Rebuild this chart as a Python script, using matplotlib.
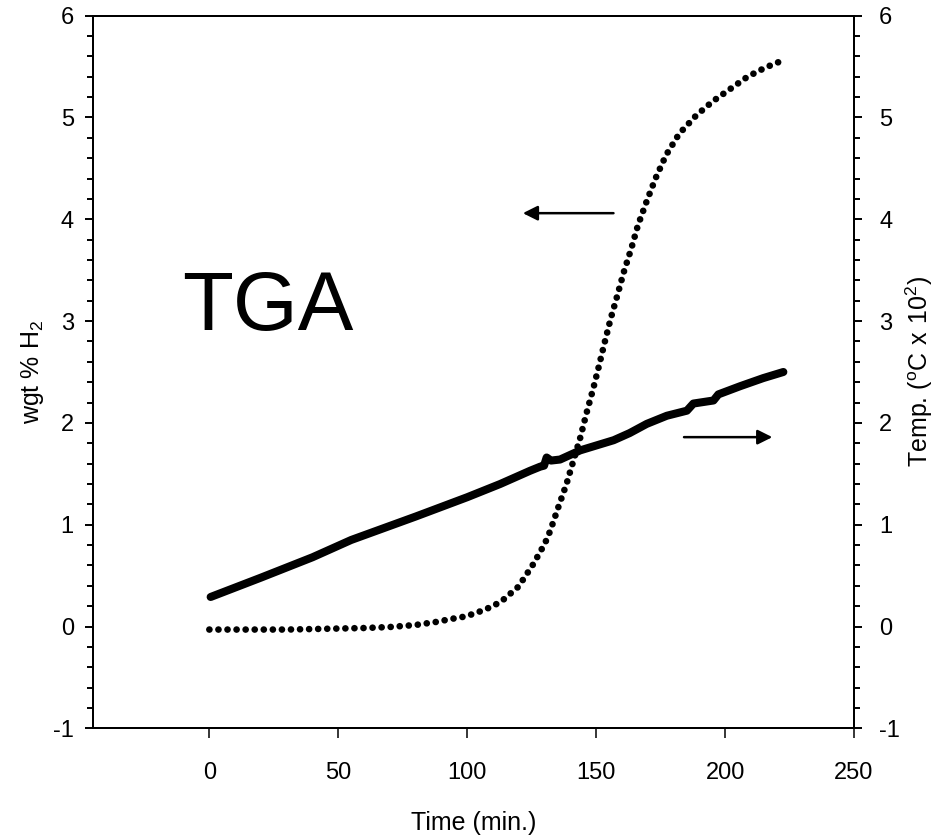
import matplotlib.pyplot as plt
from matplotlib.ticker import MultipleLocator

plt.rcParams['font.family'] = ['Liberation Sans', 'DejaVu Sans']
plt.rcParams['mathtext.fontset'] = 'custom'
plt.rcParams['mathtext.rm'] = 'Liberation Sans'
plt.rcParams['axes.unicode_minus'] = False

# weight % H2 (dotted curve, left axis)
t_wgt = [0, 10, 20, 30, 40, 50, 60, 70, 80, 88, 94, 99.6, 106.3, 109.9, 113.4,
         116.6, 119.8, 122.7, 125.3, 127.8, 130.2, 132.2, 135.3, 138.5, 141.2,
         143.9, 146.2, 148.8, 151, 153.3, 155.6, 158.2, 160.7, 163.6, 166.2,
         169.5, 173, 177.1, 182.2, 188.8, 195.3, 202, 208.7, 215.6, 222.3]
wgt = [-0.03, -0.03, -0.03, -0.03, -0.025, -0.02, -0.015, -0.005, 0.015, 0.045,
       0.075, 0.10, 0.16, 0.20, 0.25, 0.32, 0.39, 0.50, 0.60, 0.71, 0.82, 0.94,
       1.17, 1.40, 1.63, 1.86, 2.09, 2.33, 2.55, 2.79, 3.02, 3.25, 3.48, 3.71,
       3.94, 4.17, 4.40, 4.63, 4.84, 5.02, 5.16, 5.28, 5.40, 5.49, 5.56]

# temperature in degC x 100 (solid line, right axis)
t_temp = [0.5, 20, 40, 55, 80, 100, 112.8, 124.4, 128.3, 129.8, 130.8, 132.5,
          136, 143.8, 156.8, 163, 169.6, 177.4, 185.2, 187.7, 195.5, 197.4,
          205.8, 214.8, 222.6]
temp = [0.29, 0.48, 0.68, 0.85, 1.08, 1.27, 1.40, 1.53, 1.57, 1.58, 1.66, 1.63,
        1.64, 1.73, 1.83, 1.90, 1.99, 2.07, 2.12, 2.19, 2.22, 2.28, 2.36, 2.44,
        2.50]

fig = plt.figure(figsize=(9.36, 8.38), dpi=100)
ax = fig.add_axes([0.0997, 0.1309, 0.8127, 0.8504])
ax2 = ax.twinx()

ax.plot(t_wgt, wgt, color='black', lw=4.8, linestyle=(0, (0.01, 1.35)),
        dash_capstyle='round')
ax2.plot(t_temp, temp, color='black', lw=5.8, solid_capstyle='round',
         solid_joinstyle='round')

ax.set_xlim(-45, 250)
ax.set_ylim(-1, 6)
ax2.set_ylim(-1, 6)
ax.set_xticks([0, 50, 100, 150, 200, 250])

for a in (ax, ax2):
    a.yaxis.set_major_locator(MultipleLocator(1))
    a.yaxis.set_minor_locator(MultipleLocator(0.2))
    for s in a.spines.values():
        s.set_linewidth(1.4)

ax.tick_params(axis='x', direction='out', length=7, width=1.1, labelsize=17, pad=17)
ax.tick_params(axis='y', which='major', direction='out', length=6, width=1.4, labelsize=17, pad=8)
ax.tick_params(axis='y', which='minor', direction='out', length=4, width=1.4)
ax2.tick_params(axis='y', which='major', direction='out', length=6, width=1.4, labelsize=17, pad=12)
ax2.tick_params(axis='y', which='minor', direction='out', length=4, width=1.4)

ax.set_xlabel('Time (min.)', fontsize=18, labelpad=20)
ax.set_ylabel('wgt % H$_2$', fontsize=18, labelpad=5)
ax2.set_ylabel(r'Temp. ($\mathregular{^oC\ x\ 10^2}$)', fontsize=18, labelpad=3)

ax.text(-10.5, 2.91, 'TGA', fontsize=60, ha='left', va='baseline')

ax.annotate('', xy=(120.5, 4.06), xytext=(157.8, 4.06),
            arrowprops=dict(arrowstyle='-|>', color='black', lw=1.8, mutation_scale=22))
ax.annotate('', xy=(219.4, 1.86), xytext=(183, 1.86),
            arrowprops=dict(arrowstyle='-|>', color='black', lw=1.8, mutation_scale=22))

fig.savefig('out.png', dpi=100)
